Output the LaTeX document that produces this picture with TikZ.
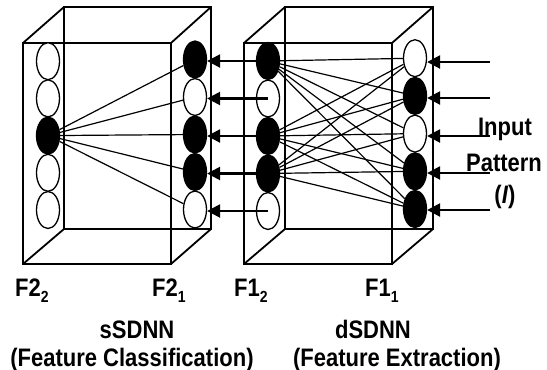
\documentclass[tikz,border=0pt]{standalone}
\usepackage{fontspec}
\setmainfont{Liberation Sans}
\usetikzlibrary{arrows.meta,shapes.geometric}
\newcommand{\lowsub}[1]{\raisebox{-0.45ex}{\fontsize{14}{14}\selectfont #1}}
\newcommand{\tall}[1]{\scalebox{1}[1.15]{#1}}
\begin{document}
\begin{tikzpicture}[x=1pt,y=-1pt,
  boxline/.style={line width=1.8pt,line join=miter},
  neuron/.style={ellipse,draw,line width=1.3pt,minimum width=23pt,minimum height=37pt,inner sep=0pt},
  wn/.style={neuron,fill=white},
  bn/.style={neuron,fill=black},
  link/.style={line width=1.2pt},
  feed/.style={line width=2.4pt,-{Triangle[length=13pt,width=13pt]}},
  lab/.style={font=\fontsize{22}{26}\selectfont\bfseries,inner sep=0pt}
]
\useasboundingbox (0,0) rectangle (547,370);

% ---- left box (sSDNN)
\draw[boxline] (64,7) rectangle (211,229);
\draw[boxline] (23,43) rectangle (171,264);
\draw[boxline] (23,43) -- (64,7) (171,43) -- (211,7) (23,264) -- (64,229) (171,264) -- (211,229);
% ---- right box (dSDNN)
\draw[boxline] (285,7) rectangle (433,229);
\draw[boxline] (244,43) rectangle (392,264);
\draw[boxline] (244,43) -- (285,7) (392,43) -- (433,7) (244,264) -- (285,229) (392,264) -- (433,229);

% ---- neurons
\foreach \i/\s in {1/wn,2/wn,3/bn,4/wn,5/wn}
  \node[\s] (a\i) at (48,{24+37.2*\i}) {};
\foreach \i/\s in {1/bn,2/wn,3/bn,4/bn,5/wn}
  \node[\s] (b\i) at (195,{22+37.5*\i}) {};
\foreach \i/\s in {1/bn,2/wn,3/bn,4/bn,5/wn}
  \node[\s] (c\i) at (268,{23.5+37.5*\i}) {};
\foreach \i/\s in {1/wn,2/bn,3/wn,4/bn,5/bn}
  \node[\s] (d\i) at (415,{20.5+37.7*\i}) {};

% ---- connections
\foreach \j in {1,...,5} \draw[link] (a3) -- (b\j);
\foreach \i in {1,3,4} \foreach \j in {1,...,5} \draw[link] (c\i) -- (d\j);

% ---- feed arrows F1_2 -> F2_1
\foreach \i in {1,...,5}
  \draw[feed] (c\i.center) -- (c\i.center -| b\i.east);

% ---- input arrows
\foreach \i/\y in {1/62,2/98,3/136,4/173,5/210}
  \coordinate (in\i) at (490,\y);
\foreach \i in {1,...,5}
  \draw[feed] (in\i) -- (in\i -| d\i.east);

% ---- labels
\node[lab,anchor=base west] (l22) at (15,296) {\tall{F2\lowsub{2}}};
\node[lab,anchor=base west] (l21) at (152,296) {\tall{F2\lowsub{1}}};
\node[lab,anchor=base west] (l12) at (234,296) {\tall{F1\lowsub{2}}};
\node[lab,anchor=base west] (l11) at (365,296) {\tall{F1\lowsub{1}}};
\node[lab,anchor=base] (s) at (137,338) {\tall{sSDNN}};
\node[lab,anchor=base] (d) at (373,338) {\tall{dSDNN}};
\node[lab,anchor=base] (sc) at (132,366) {\tall{(Feature Classification)}};
\node[lab,anchor=base] (dc) at (397,366) {\tall{(Feature Extraction)}};
\node[lab,anchor=base] (ip1) at (505,135) {\tall{Input}};
\node[lab,anchor=base] (ip2) at (504,171) {\tall{Pattern}};
\node[lab,anchor=base] (ip3) at (505,203) {\tall{(\textit{I})}};
\end{tikzpicture}
\end{document}
